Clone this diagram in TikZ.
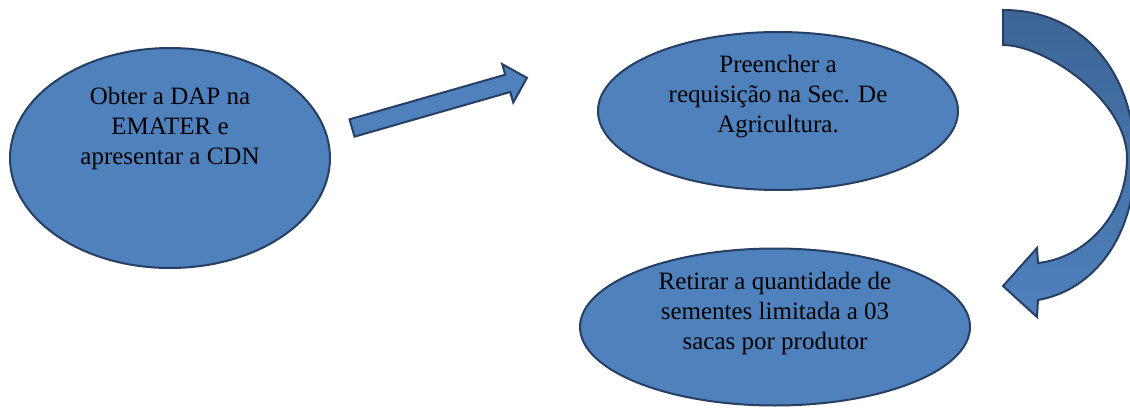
\documentclass[tikz,border=0pt]{standalone}
\usepackage{fontspec}
\setmainfont{Liberation Serif}
\usetikzlibrary{shapes.geometric}
\definecolor{boxblue}{HTML}{4F81BD}
\definecolor{darkblue}{HTML}{3D6596}
\definecolor{edgeblue}{HTML}{263F63}
\begin{document}
\begin{tikzpicture}[x=0.5pt,y=0.5pt,
  stepbox/.style={ellipse,draw=edgeblue,line width=1pt,fill=boxblue,inner sep=0pt},
  steptext/.style={align=center,font=\fontsize{12.5pt}{15pt}\selectfont,inner sep=0pt},
  blockarrow/.style={draw=edgeblue,line width=1pt,line join=miter}]
\useasboundingbox (0,0) rectangle (1130,408);
% the three steps
\node[stepbox,minimum width=160pt,minimum height=110pt] (dap) at (170,250) {};
\node[steptext] (daptext) at ([yshift=15pt]dap.center) {Obter a DAP na\\EMATER e\\apresentar a CDN};
\node[stepbox,minimum width=180pt,minimum height=79pt] (req) at (778,297) {};
\node[steptext] (reqtext) at ([yshift=7pt]req.center) {Preencher a\\requisição na Sec. De\\Agricultura.};
\node[stepbox,minimum width=195pt,minimum height=78.5pt] (ret) at (775,81) {};
\node[steptext] (rettext) at ([yshift=7pt]ret.center) {Retirar a quantidade de\\sementes limitada a 03\\sacas por produtor};
% straight arrow
\begin{scope}[shift={(352,280)},rotate=16]
\fill[boxblue] (0,-9) -- (162,-9) -- (162,-20) -- (182,0) -- (162,20) -- (162,9) -- (0,9) -- cycle;
\draw[blockarrow] (0,-9) -- (162,-9) -- (162,-20) -- (182,0) -- (162,20) -- (162,9) -- (0,9) -- cycle;
\end{scope}
% curved arrow
\draw[blockarrow,top color=darkblue,bottom color=boxblue]
  (1003,398) .. controls (1085,398) and (1135,333) .. (1135,248)
  .. controls (1135,173) and (1095,118) .. (1038,108)
  -- (1037,91) -- (1003,122) -- (1037,160) -- (1038,145)
  .. controls (1085,150) and (1127,193) .. (1127,250)
  .. controls (1127,308) and (1045,363) .. (1003,363) -- cycle;
\end{tikzpicture}
\end{document}
